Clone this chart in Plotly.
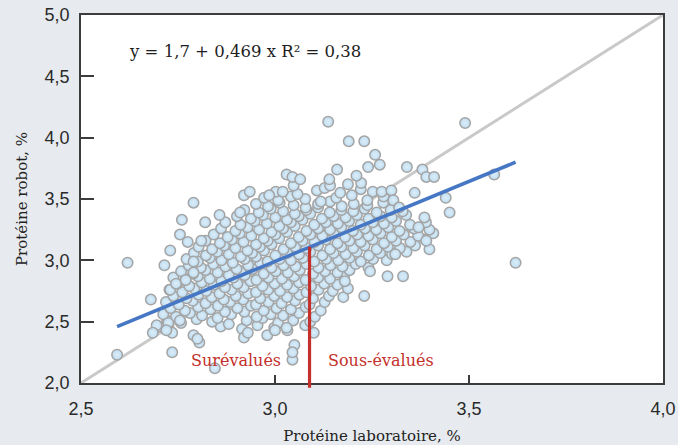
import plotly.graph_objects as go

# ---- data ----
x_ticks = [2.5, 3.0, 3.5, 4.0]
x_tick_labels = ["2,5", "3,0", "3,5", "4,0"]
y_ticks = [2.0, 2.5, 3.0, 3.5, 4.0, 4.5, 5.0]
y_tick_labels = ["2,0", "2,5", "3,0", "3,5", "4,0", "4,5", "5,0"]

# reference line (corner to corner) and fitted regression line
diag_x = [2.5, 4.0]
diag_y = [2.0, 5.0]
fit_x = [2.593, 3.62]
fit_y = [2.46, 3.80]

# split position (lab protein) and top of red divider
split_x = 3.089
split_top = 3.11

# dense central cloud: (lab %, robot %)
cloud_low = [
    (2.700, 2.46), (2.728, 2.43), (2.860, 2.46), (2.915, 2.44), (2.955, 2.47), (2.998, 2.45), (3.032, 2.43), (3.078, 2.47),
    (2.722, 2.51), (2.758, 2.49), (2.798, 2.52), (2.838, 2.50), (2.881, 2.48), (2.927, 2.51), (2.968, 2.53), (3.008, 2.49), (3.047, 2.51), (3.091, 2.50),
    (2.712, 2.56), (2.745, 2.54), (2.781, 2.57), (2.812, 2.55), (2.852, 2.53), (2.887, 2.56), (2.921, 2.58), (2.953, 2.54), (2.989, 2.56), (3.021, 2.55), (3.062, 2.57), (3.103, 2.54),
    (2.731, 2.61), (2.768, 2.59), (2.802, 2.62), (2.834, 2.60), (2.871, 2.58), (2.903, 2.61), (2.938, 2.63), (2.971, 2.59), (3.004, 2.61), (3.041, 2.60), (3.079, 2.62), (3.118, 2.59),
    (2.719, 2.66), (2.752, 2.64), (2.788, 2.67), (2.821, 2.65), (2.853, 2.63), (2.884, 2.66), (2.918, 2.68), (2.951, 2.64), (2.983, 2.66), (3.017, 2.65), (3.052, 2.67), (3.089, 2.64), (3.128, 2.66),
    (2.738, 2.71), (2.772, 2.69), (2.803, 2.72), (2.837, 2.70), (2.868, 2.68), (2.899, 2.71), (2.931, 2.73), (2.962, 2.69), (2.998, 2.71), (3.031, 2.70), (3.063, 2.72), (3.098, 2.69), (3.139, 2.71), (3.176, 2.70),
    (2.728, 2.76), (2.761, 2.74), (2.792, 2.77), (2.823, 2.75), (2.857, 2.73), (2.888, 2.76), (2.919, 2.78), (2.951, 2.74), (2.982, 2.76), (3.013, 2.75), (3.047, 2.77), (3.081, 2.74), (3.112, 2.76), (3.149, 2.75), (3.188, 2.77),
]
cloud_mid = [
    (2.748, 2.81), (2.779, 2.79), (2.811, 2.82), (2.842, 2.80), (2.871, 2.78), (2.903, 2.81), (2.937, 2.83), (2.968, 2.79), (2.999, 2.81), (3.031, 2.80), (3.062, 2.82), (3.093, 2.79), (3.127, 2.81), (3.161, 2.80),
    (2.738, 2.86), (2.769, 2.84), (2.801, 2.87), (2.832, 2.85), (2.862, 2.83), (2.893, 2.86), (2.922, 2.88), (2.952, 2.84), (2.983, 2.86), (3.018, 2.85), (3.049, 2.87), (3.079, 2.84), (3.111, 2.86), (3.142, 2.85), (3.178, 2.87),
    (2.758, 2.91), (2.789, 2.89), (2.821, 2.92), (2.852, 2.90), (2.881, 2.88), (2.911, 2.91), (2.942, 2.93), (2.971, 2.89), (3.002, 2.91), (3.033, 2.90), (3.064, 2.92), (3.098, 2.89), (3.129, 2.91), (3.161, 2.90), (3.192, 2.92),
    (2.778, 2.96), (2.809, 2.94), (2.841, 2.97), (2.872, 2.95), (2.901, 2.93), (2.931, 2.96), (2.962, 2.98), (2.991, 2.94), (3.022, 2.96), (3.053, 2.95), (3.081, 2.97), (3.112, 2.94), (3.143, 2.96), (3.174, 2.95), (3.208, 2.97), (3.241, 2.94),
    (2.772, 3.01), (2.801, 2.99), (2.832, 3.02), (2.862, 3.00), (2.891, 2.98), (2.922, 3.01), (2.951, 3.03), (2.981, 2.99), (3.012, 3.01), (3.041, 3.00), (3.072, 3.02), (3.101, 2.99), (3.132, 3.01), (3.163, 3.00), (3.192, 3.02), (3.221, 2.99), (3.253, 3.01), (3.288, 3.00),
    (2.791, 3.06), (2.822, 3.04), (2.851, 3.07), (2.881, 3.05), (2.912, 3.03), (2.941, 3.06), (2.972, 3.08), (3.001, 3.04), (3.031, 3.06), (3.062, 3.05), (3.091, 3.07), (3.122, 3.04), (3.151, 3.06), (3.182, 3.05), (3.211, 3.07), (3.242, 3.04), (3.271, 3.06), (3.302, 3.05), (3.339, 3.07),
    (2.803, 3.11), (2.838, 3.09), (2.869, 3.12), (2.898, 3.10), (2.929, 3.08), (2.961, 3.11), (2.991, 3.13), (3.022, 3.09), (3.052, 3.11), (3.081, 3.10), (3.111, 3.12), (3.142, 3.09), (3.171, 3.11), (3.202, 3.10), (3.231, 3.12), (3.262, 3.09), (3.291, 3.11), (3.322, 3.10), (3.361, 3.12), (3.398, 3.09),
]
cloud_high = [
    (2.821, 3.16), (2.858, 3.14), (2.889, 3.17), (2.919, 3.15), (2.951, 3.13), (2.981, 3.16), (3.011, 3.18), (3.041, 3.14), (3.071, 3.16), (3.102, 3.15), (3.131, 3.17), (3.161, 3.14), (3.192, 3.16), (3.221, 3.15), (3.252, 3.17), (3.281, 3.14), (3.312, 3.16), (3.349, 3.15), (3.388, 3.17),
    (2.842, 3.21), (2.878, 3.19), (2.909, 3.22), (2.939, 3.20), (2.971, 3.18), (3.001, 3.21), (3.031, 3.23), (3.061, 3.19), (3.091, 3.21), (3.122, 3.20), (3.151, 3.22), (3.181, 3.19), (3.212, 3.21), (3.241, 3.20), (3.272, 3.22), (3.301, 3.19), (3.332, 3.21), (3.369, 3.20), (3.408, 3.22),
    (2.861, 3.26), (2.898, 3.24), (2.929, 3.27), (2.959, 3.25), (2.991, 3.23), (3.021, 3.26), (3.051, 3.28), (3.081, 3.24), (3.111, 3.26), (3.142, 3.25), (3.171, 3.27), (3.201, 3.24), (3.232, 3.26), (3.261, 3.25), (3.292, 3.27), (3.321, 3.24), (3.358, 3.26), (3.398, 3.25),
    (2.872, 3.31), (2.911, 3.29), (2.948, 3.32), (2.979, 3.30), (3.011, 3.28), (3.041, 3.31), (3.071, 3.33), (3.101, 3.29), (3.131, 3.31), (3.162, 3.30), (3.191, 3.32), (3.221, 3.29), (3.252, 3.31), (3.281, 3.30), (3.312, 3.32), (3.348, 3.29), (3.389, 3.31),
    (2.902, 3.36), (2.938, 3.34), (2.969, 3.37), (3.001, 3.35), (3.031, 3.33), (3.061, 3.36), (3.091, 3.38), (3.121, 3.34), (3.151, 3.36), (3.182, 3.35), (3.211, 3.37), (3.241, 3.34), (3.272, 3.36), (3.301, 3.35), (3.338, 3.37),
    (2.921, 3.41), (2.958, 3.39), (2.989, 3.42), (3.021, 3.40), (3.051, 3.38), (3.081, 3.41), (3.111, 3.43), (3.141, 3.39), (3.171, 3.41), (3.202, 3.40), (3.231, 3.42), (3.262, 3.39), (3.298, 3.41), (3.329, 3.40),
    (2.951, 3.46), (2.982, 3.44), (3.012, 3.47), (3.048, 3.45), (3.079, 3.43), (3.111, 3.46), (3.142, 3.48), (3.172, 3.44), (3.203, 3.46), (3.238, 3.45), (3.279, 3.47),
    (2.972, 3.51), (3.008, 3.49), (3.041, 3.52), (3.078, 3.50), (3.118, 3.48), (3.158, 3.51), (3.198, 3.53), (3.238, 3.49), (3.280, 3.52),
    (3.002, 3.56), (3.058, 3.54), (3.108, 3.57), (3.168, 3.55), (3.221, 3.58), (3.252, 3.56), (3.275, 3.56), (3.300, 3.57),
    (3.048, 3.61), (3.128, 3.59), (3.188, 3.62), (3.142, 3.61), (3.222, 3.63),
]
# scattered points around the cloud
cloud_edge = [
    (3.137, 4.13), (3.490, 4.12), (3.190, 3.97), (3.230, 3.97), (3.258, 3.86),
    (3.160, 3.74), (3.140, 3.66), (3.210, 3.69), (3.240, 3.76), (3.270, 3.78),
    (3.340, 3.76), (3.380, 3.74), (3.390, 3.68), (3.410, 3.68), (3.565, 3.70),
    (3.440, 3.51), (3.450, 3.39), (3.385, 3.35), (3.370, 3.27), (3.390, 3.16),
    (3.360, 3.55), (3.305, 3.49), (3.320, 3.43), (3.310, 3.05),
    (3.290, 2.87), (3.330, 2.87), (3.230, 2.71), (3.245, 2.91), (3.180, 2.83), (3.620, 2.98),
    (3.030, 3.70), (3.045, 3.68), (3.065, 3.66),
    (2.920, 3.53), (2.935, 3.56), (2.985, 3.53), (3.020, 3.56), (2.790, 3.47),
    (2.820, 3.31), (2.760, 3.33), (2.857, 3.37), (2.910, 3.39),
    (2.755, 3.21), (2.775, 3.15), (2.810, 3.16), (2.730, 3.08), (2.715, 2.96), (2.790, 2.99),
    (2.620, 2.98), (2.680, 2.68), (2.730, 2.76), (2.745, 2.81), (2.770, 2.84), (2.790, 2.90),
    (2.695, 2.47), (2.685, 2.41), (2.725, 2.49), (2.735, 2.41), (2.755, 2.51), (2.720, 2.43),
    (2.735, 2.25), (2.593, 2.23), (2.790, 2.39), (2.805, 2.33), (2.800, 2.36), (2.845, 2.12),
    (3.045, 2.19), (3.050, 2.31), (3.045, 2.25), (2.920, 2.37), (2.930, 2.41),
    (2.980, 2.39), (3.000, 2.43), (3.030, 2.45), (3.100, 2.41),
]

points = cloud_low + cloud_mid + cloud_high + cloud_edge
lab_pct = [p[0] for p in points]
robot_pct = [p[1] for p in points]

x_range = [2.5, 4.0]
y_range = [2.0, 5.0]

SERIF = "DejaVu Serif"
SANS = "Liberation Sans"
RED = "#c4302b"

fig = go.Figure()

fig.add_trace(go.Scatter(
    x=diag_x, y=diag_y, mode="lines",
    line=dict(color="#c9c9c9", width=3), hoverinfo="skip", showlegend=False,
))

fig.add_trace(go.Scatter(
    x=lab_pct, y=robot_pct, mode="markers",
    marker=dict(
        size=10.5, color="#bfdef2",
        gradient=dict(type="radial", color="#dcedf8"),
        line=dict(color="#a4a4a4", width=1.5),
    ),
    showlegend=False,
))

fig.add_trace(go.Scatter(
    x=fit_x, y=fit_y, mode="lines",
    line=dict(color="#4677c4", width=3.5), hoverinfo="skip", showlegend=False,
))

# red divider line (extends slightly below the axis)
fig.add_shape(
    type="line", xref="x", yref="paper",
    x0=split_x, x1=split_x,
    y0=-0.013, y1=(split_top - y_range[0]) / (y_range[1] - y_range[0]),
    line=dict(color=RED, width=3.2),
)

fig.add_annotation(
    x=2.618, y=4.70, xref="x", yref="y", xanchor="left", yanchor="middle",
    text="y = 1,7 + 0,469 x R² = 0,38", showarrow=False,
    font=dict(family=SERIF, size=16.5, color="#1e1e1e"),
)
fig.add_annotation(
    x=3.021, y=2.186, xref="x", yref="y", xanchor="right", yanchor="middle",
    text="Surévalués", showarrow=False,
    font=dict(family=SERIF, size=16, color=RED),
)
fig.add_annotation(
    x=3.131, y=2.186, xref="x", yref="y", xanchor="left", yanchor="middle",
    text="Sous-évalués", showarrow=False,
    font=dict(family=SERIF, size=16, color=RED),
)

axis_common = dict(
    showgrid=False, zeroline=False, automargin=False,
    showline=True, mirror=True, linecolor="#3c3c3c", linewidth=1.6,
    ticks="inside", tickcolor="#3c3c3c", tickwidth=1.5,
    tickfont=dict(family=SANS, size=18, color="#2a2a2a"),
)

fig.update_xaxes(
    range=x_range, tickvals=x_ticks, ticktext=x_tick_labels, ticklen=8,
    ticklabelstandoff=9,
    title=dict(text="Protéine laboratoire, %", font=dict(family=SERIF, size=15, color="#222222"), standoff=13),
    **axis_common,
)
fig.update_yaxes(
    range=y_range, tickvals=y_ticks, ticktext=y_tick_labels, ticklen=13,
    ticklabelstandoff=6,
    title=dict(text="Protéine robot, %", font=dict(family=SERIF, size=15, color="#222222"), standoff=13),
    **axis_common,
)

fig.update_layout(
    width=678, height=445,
    margin=dict(l=81, r=15, t=15, b=62),
    paper_bgcolor="#e7eaee",
    plot_bgcolor="#ffffff",
    showlegend=False,
)

fig.write_html(
    "out.html",
    config={"displayModeBar": False},
    post_script="document.body.style.margin='0';document.body.style.overflow='hidden';",
)
